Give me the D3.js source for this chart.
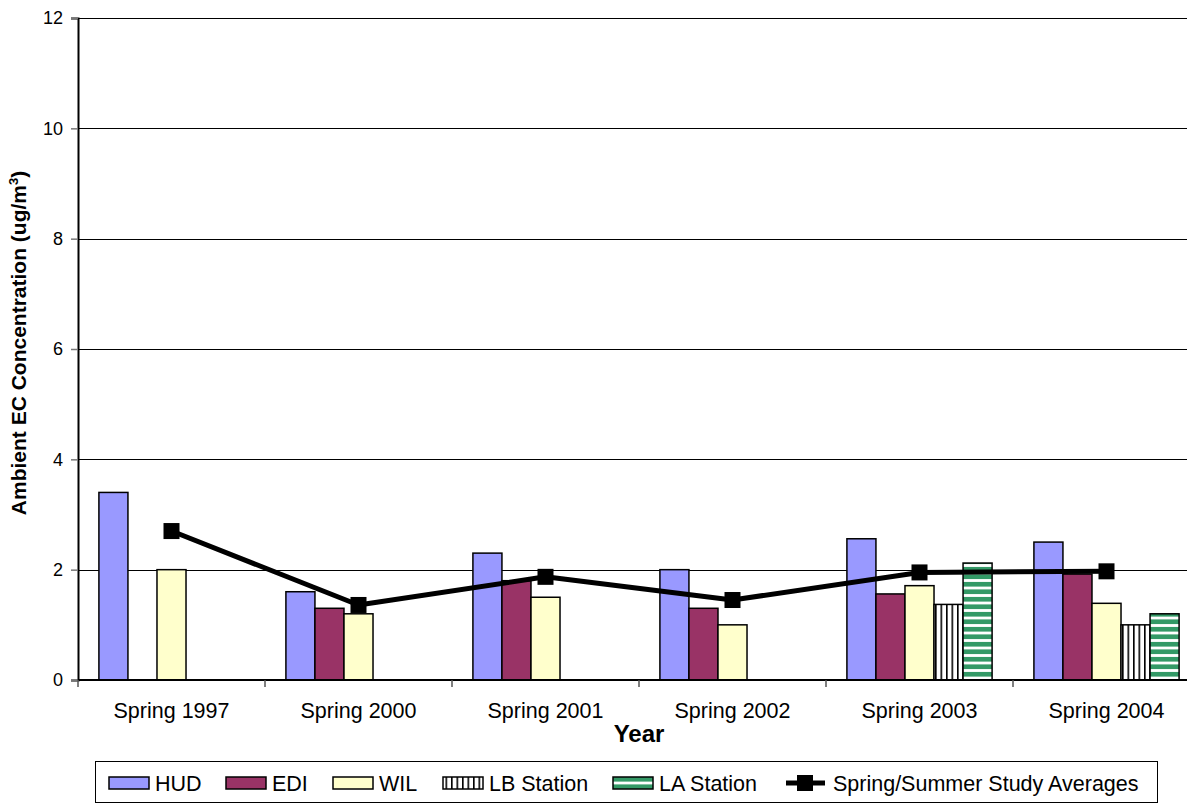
<!DOCTYPE html>
<html>
<head>
<meta charset="utf-8">
<script src="https://cdn.jsdelivr.net/npm/d3@7"></script>
<style>
  html, body { margin: 0; padding: 0; background: #fff; }
  svg { display: block; font-family: Arial, "Liberation Sans", sans-serif; }
</style>
</head>
<body>
<svg id="chart" width="1187" height="804"></svg>
<script>
// Ambient elemental carbon by sampling season and site
const categories = ["Spring 1997", "Spring 2000", "Spring 2001", "Spring 2002", "Spring 2003", "Spring 2004"];
const seriesNames = ["HUD", "EDI", "WIL", "LB Station", "LA Station"];
const hud = [3.40, 1.60, 2.30, 2.00, 2.56, 2.50];
const edi = [null, 1.30, 1.80, 1.30, 1.56, 1.92];
const wil = [2.00, 1.20, 1.50, 1.00, 1.71, 1.39];
const lbStation = [null, null, null, null, 1.37, 1.00];
const laStation = [null, null, null, null, 2.12, 1.20];
const studyAverages = [2.70, 1.36, 1.87, 1.45, 1.95, 1.97];
const averageName = "Spring/Summer Study Averages";
const yTicks = [0, 2, 4, 6, 8, 10, 12];

const seriesValues = [hud, edi, wil, lbStation, laStation];
const fills = ["#9999FF", "#993366", "#FFFFCC", "url(#lbPattern)", "url(#laPattern)"];

const svg = d3.select("#chart");
const margin = { left: 78, top: 18, right: 1200, bottom: 680 };

// patterns for the two station series
const defs = svg.append("defs");
const lb = defs.append("pattern").attr("id", "lbPattern")
  .attr("patternUnits", "userSpaceOnUse").attr("width", 5.5).attr("height", 10);
lb.append("rect").attr("width", 5.5).attr("height", 10).attr("fill", "#fff");
lb.append("rect").attr("x", 0).attr("width", 1.6).attr("height", 10).attr("fill", "#000");
const la = defs.append("pattern").attr("id", "laPattern")
  .attr("patternUnits", "userSpaceOnUse").attr("y", 1.6).attr("width", 10).attr("height", 7.5);
la.append("rect").attr("width", 10).attr("height", 7.5).attr("fill", "#339966");
la.append("rect").attr("y", 0).attr("width", 10).attr("height", 2.8).attr("fill", "#fff");

const x = d3.scaleBand().domain(categories).range([margin.left, margin.right]).paddingInner(0).paddingOuter(0);
const inner = d3.scaleBand().domain(seriesNames).range([0, x.bandwidth()]).paddingInner(0).paddingOuter(0.72);
const y = d3.scaleLinear().domain([0, 12]).range([margin.bottom, margin.top]);

// gridlines
svg.append("g").selectAll("line").data(yTicks.filter(d => d > 0)).join("line")
  .attr("x1", margin.left).attr("x2", margin.right)
  .attr("y1", d => Math.round(y(d)) + 0.5).attr("y2", d => Math.round(y(d)) + 0.5)
  .attr("stroke", "#000").attr("stroke-width", 1);

// bars
const barData = [];
seriesValues.forEach((vals, si) => {
  vals.forEach((v, ci) => {
    if (v != null) barData.push({ cat: categories[ci], series: seriesNames[si], value: v, si });
  });
});
svg.append("g").selectAll("rect").data(barData).join("rect")
  .attr("x", d => x(d.cat) + inner(d.series))
  .attr("y", d => y(d.value))
  .attr("width", inner.bandwidth())
  .attr("height", d => y(0) - y(d.value))
  .attr("fill", d => fills[d.si])
  .attr("stroke", "#000").attr("stroke-width", 1.5);

// y axis
const yAxis = svg.append("g").attr("transform", `translate(${margin.left},0)`)
  .call(d3.axisLeft(y).tickValues(yTicks).tickSize(7).tickPadding(8).tickFormat(d3.format("d")));
yAxis.select(".domain").attr("stroke", "#000").attr("stroke-width", 2);
yAxis.selectAll(".tick line").attr("stroke", "#777").attr("stroke-width", 1.5);
yAxis.selectAll(".tick text").attr("font-size", 18).attr("fill", "#000")
  .attr("font-family", "Arial, 'Liberation Sans', sans-serif");

// x axis with ticks at category boundaries
const xAxisG = svg.append("g");
xAxisG.append("line").attr("x1", margin.left).attr("x2", margin.right)
  .attr("y1", y(0)).attr("y2", y(0)).attr("stroke", "#000").attr("stroke-width", 2);
const boundaries = categories.map(c => x(c)).concat([margin.right]);
xAxisG.selectAll("line.tk").data(boundaries).join("line").attr("class", "tk")
  .attr("x1", d => d).attr("x2", d => d).attr("y1", y(0)).attr("y2", y(0) + 7)
  .attr("stroke", "#555").attr("stroke-width", 1.5);
xAxisG.selectAll("text").data(categories).join("text")
  .attr("x", d => x(d) + x.bandwidth() / 2).attr("y", 718)
  .attr("text-anchor", "middle").attr("font-size", 21.5).attr("fill", "#000").text(d => d);

// averages line
const line = d3.line().x((d, i) => x(categories[i]) + x.bandwidth() / 2).y(d => y(d));
svg.append("path").datum(studyAverages).attr("d", line)
  .attr("fill", "none").attr("stroke", "#000").attr("stroke-width", 5).attr("stroke-linejoin", "round");
svg.append("g").selectAll("rect").data(studyAverages).join("rect")
  .attr("x", (d, i) => x(categories[i]) + x.bandwidth() / 2 - 8)
  .attr("y", d => y(d) - 8).attr("width", 16).attr("height", 16).attr("fill", "#000");

// axis titles
svg.append("text").attr("x", 639).attr("y", 742).attr("text-anchor", "middle")
  .attr("font-size", 24).attr("font-weight", "bold").text("Year");
const yt = svg.append("text").attr("transform", "translate(26,343) rotate(-90)")
  .attr("text-anchor", "middle").attr("font-size", 21).attr("font-weight", "bold");
yt.append("tspan").text("Ambient EC Concentration (ug/m");
yt.append("tspan").attr("font-size", 13).attr("dy", -8).text("3");
yt.append("tspan").attr("dy", 8).text(")");

// legend
const lg = svg.append("g");
lg.append("rect").attr("x", 95.5).attr("y", 761.5).attr("width", 1062).attr("height", 41)
  .attr("fill", "#fff").attr("stroke", "#000").attr("stroke-width", 1);
const legendX = [109, 226, 333, 443, 613];
seriesNames.forEach((name, i) => {
  lg.append("rect").attr("x", legendX[i]).attr("y", 777).attr("width", 40).attr("height", 12)
    .attr("fill", fills[i]).attr("stroke", "#000").attr("stroke-width", 1.5);
  lg.append("text").attr("x", legendX[i] + 46).attr("y", 791).attr("font-size", 21.5).text(name);
});
lg.append("line").attr("x1", 786).attr("x2", 825).attr("y1", 783).attr("y2", 783)
  .attr("stroke", "#000").attr("stroke-width", 5);
lg.append("rect").attr("x", 797).attr("y", 775).attr("width", 16).attr("height", 16).attr("fill", "#000");
lg.append("text").attr("x", 833).attr("y", 791).attr("font-size", 21.5).text(averageName);
</script>
</body>
</html>
